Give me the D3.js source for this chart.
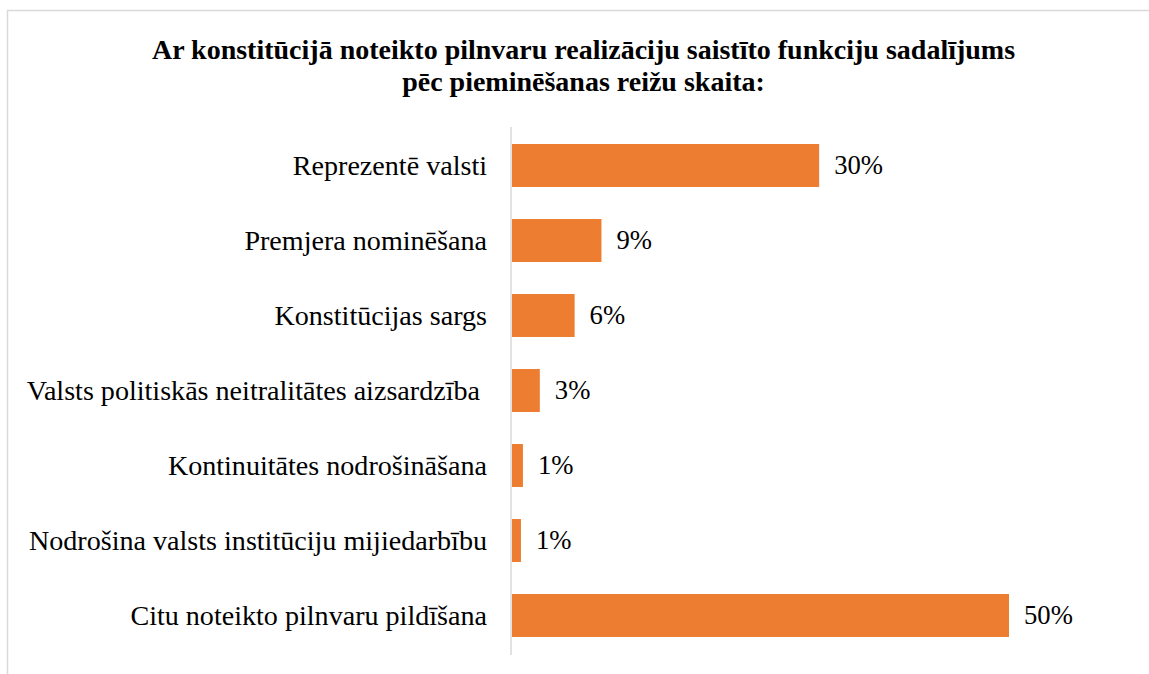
<!DOCTYPE html>
<html>
<head>
<meta charset="utf-8">
<script src="https://cdn.jsdelivr.net/npm/d3@7"></script>
<style>
  html, body { margin: 0; padding: 0; background: #fff; }
  svg { display: block; }
  svg text { font-family: "Liberation Serif", "Times New Roman", "DejaVu Serif", serif; white-space: pre; }
</style>
</head>
<body>
<svg id="chart" width="1149" height="674"></svg>
<script>
const categories = [
  "Reprezentē valsti",
  "Premjera nominēšana",
  "Konstitūcijas sargs",
  "Valsts politiskās neitralitātes aizsardzība ",
  "Kontinuitātes nodrošināšana",
  "Nodrošina valsts institūciju mijiedarbību",
  "Citu noteikto pilnvaru pildīšana"
];
const values = [30.9, 9.0, 6.3, 2.8, 1.1, 0.9, 50.0];
const valueLabels = ["30%", "9%", "6%", "3%", "1%", "1%", "50%"];
const titleLines = [
  "Ar konstitūcijā noteikto pilnvaru realizāciju saistīto funkciju sadalījums",
  "pēc pieminēšanas reižu skaita:"
];

const svg = d3.select("#chart");
const font = '"Liberation Serif", "Times New Roman", "DejaVu Serif", serif';

// chart frame
svg.append("rect")
  .attr("x", 7.5).attr("y", 10.5)
  .attr("width", 1200).attr("height", 700)
  .attr("fill", "#fff")
  .attr("stroke", "#d9d9d9").attr("stroke-width", 1.5);

// title
svg.append("text")
  .attr("x", 583.5).attr("y", 59)
  .attr("text-anchor", "middle")
  .style("font-family", font)
  .style("font-weight", "bold")
  .style("font-size", "28px")
  .attr("fill", "#000")
  .selectAll("tspan")
  .data(titleLines)
  .join("tspan")
  .attr("x", 583.5)
  .attr("dy", (d, i) => i === 0 ? 0 : 31.5)
  .text(d => d);

const x0 = 512;
const x = d3.scaleLinear().domain([0, 50]).range([x0, 1009]);
const y = d3.scaleBand().domain(categories).range([128, 653])
  .paddingInner(0.427).paddingOuter(0.2135);

// bars
svg.append("g").selectAll("rect")
  .data(categories)
  .join("rect")
  .attr("x", x(0))
  .attr("y", d => y(d))
  .attr("width", (d, i) => x(values[i]) - x(0))
  .attr("height", y.bandwidth())
  .attr("fill", "#ED7D31");

// axis (category)
const yAxis = d3.axisLeft(y).tickSize(0).tickPadding(24);
const ag = svg.append("g").attr("transform", `translate(${x0 - 1},0)`).call(yAxis);
ag.attr("font-family", null).attr("font-size", null);
ag.select(".domain").attr("stroke", "#d9d9d9").attr("stroke-width", 1.5)
  .attr("d", "M0,127V655");
ag.selectAll(".tick text")
  .style("font-family", font)
  .style("font-size", "28.1px")
  .style("white-space", "pre")
  .attr("fill", "#000")
  .attr("dy", "0.33em");

// value labels
svg.append("g").selectAll("text")
  .data(categories)
  .join("text")
  .attr("x", (d, i) => x(values[i]) + 15)
  .attr("y", d => y(d) + y.bandwidth() / 2)
  .attr("dy", "0.33em")
  .style("font-family", font)
  .style("font-size", "26.67px")
  .attr("fill", "#000")
  .text((d, i) => valueLabels[i]);
</script>
</body>
</html>
